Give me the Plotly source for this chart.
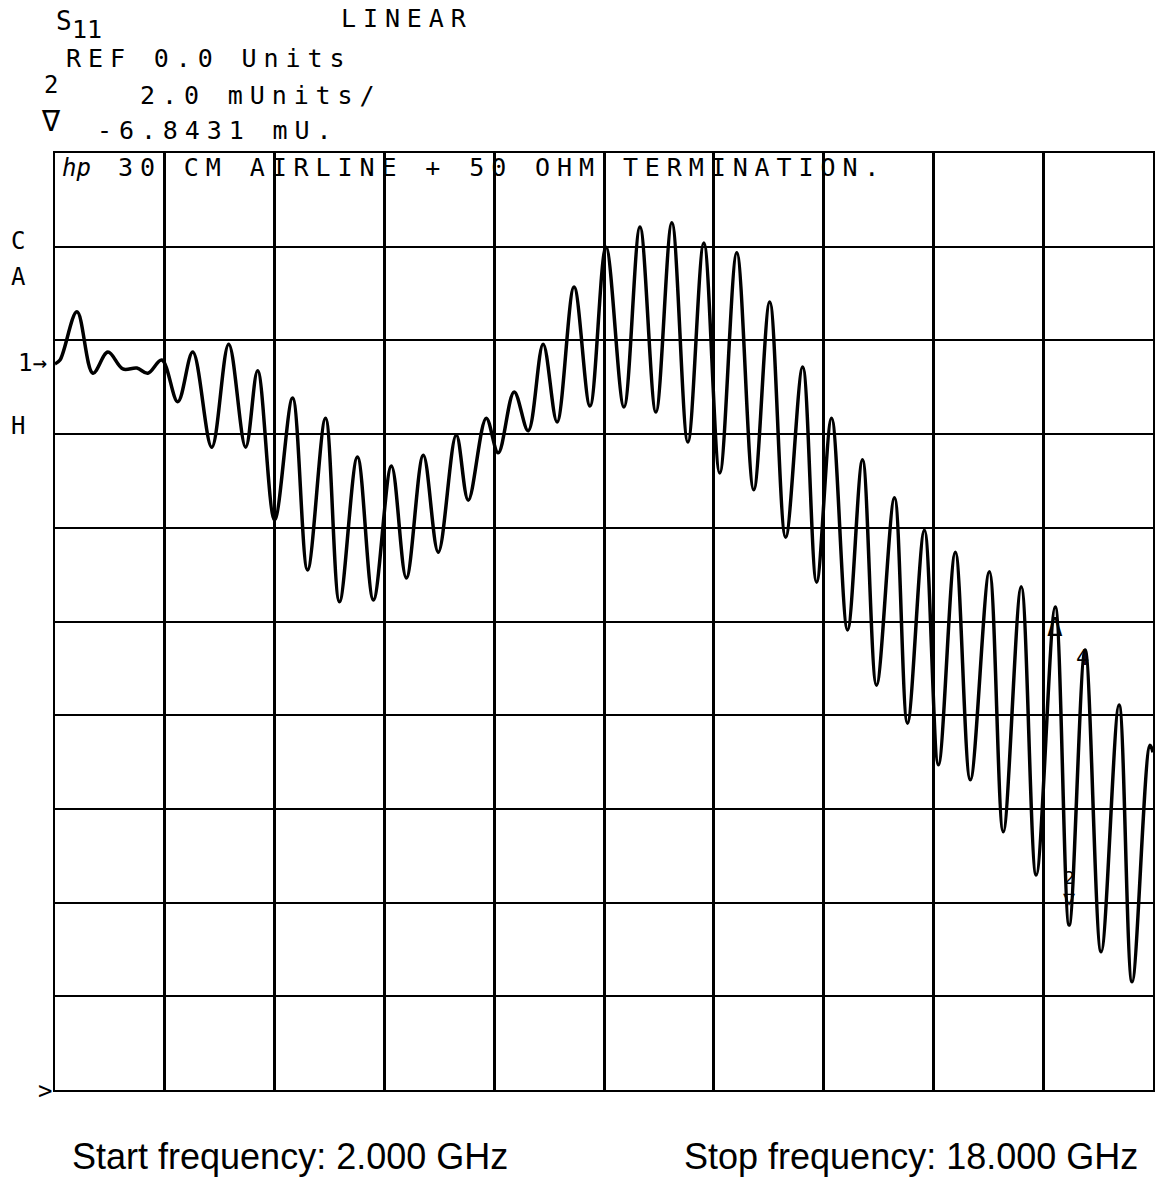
import plotly.graph_objects as go

# Frequency (GHz) and |S11| (mUnits) (peaks and troughs)
freq_ghz = [2.000, 2.073, 2.320, 2.553, 2.771, 2.989, 3.193, 3.353, 3.556, 3.789,
            4.007, 4.284, 4.531, 4.778, 4.953, 5.200, 5.462, 5.680, 5.942, 6.145,
            6.407, 6.640, 6.902, 7.120, 7.367, 7.585, 7.847, 8.022, 8.284, 8.458,
            8.691, 8.895, 9.113, 9.316, 9.564, 9.796, 10.029, 10.291, 10.524, 10.756,
            10.989, 11.222, 11.455, 11.687, 11.935, 12.182, 12.415, 12.647, 12.895, 13.098,
            13.316, 13.549, 13.767, 13.971, 14.233, 14.422, 14.669, 14.873, 15.120, 15.338,
            15.615, 15.818, 16.080, 16.298, 16.575, 16.778, 17.011, 17.244, 17.505, 17.695,
            17.956, 18.000]
s11_munits = [15.50, 15.58, 16.61, 15.30, 15.75, 15.39, 15.41, 15.30, 15.58, 14.69,
              15.75, 13.72, 15.92, 13.72, 15.35, 12.17, 14.77, 11.10, 14.34, 10.42,
              13.51, 10.46, 13.32, 10.93, 13.55, 11.48, 13.98, 12.59, 14.34, 13.60,
              14.90, 14.07, 15.92, 14.26, 17.14, 14.60, 17.99, 14.58, 18.42, 14.47,
              18.51, 13.83, 18.08, 13.17, 17.87, 12.81, 16.82, 11.80, 15.43, 10.84,
              14.34, 9.82, 13.45, 8.64, 12.64, 7.83, 11.95, 6.94, 11.48, 6.62,
              11.06, 5.51, 10.74, 4.59, 10.31, 3.52, 9.39, 2.95, 8.22, 2.31,
              7.36, 7.21]

start_ghz, stop_ghz = 2.0, 18.0
ref_units = 0.0
scale_munits = 2.0
n_div = 10

W, H = 1156, 1177
L, R, T, B = 55, 1, 153, 87
PW, PH = W - L - R, H - T - B


def px(x):
    return (x - L) / PW


def py(y):
    return (H - B - y) / PH


MONO = "DejaVu Sans Mono"
fig = go.Figure()
fig.add_trace(go.Scatter(
    x=freq_ghz, y=s11_munits, mode="lines",
    line=dict(color="black", width=3.5, shape="spline", smoothing=1.0),
    hoverinfo="skip", showlegend=False,
))

anns = []


def add(text, x, y, size=25, family=MONO, xanchor="left"):
    anns.append(dict(text=text, x=px(x), y=py(y), xref="paper", yref="paper",
                     xanchor=xanchor, yanchor="middle", showarrow=False,
                     font=dict(family=family, size=size, color="black")))


# header (instrument annotation)
add("S", 54, 21, size=26)
add("11", 70, 29)
add("LINEAR", 340, 18)
add("REF 0.0 Units", 64, 58)
add("2", 42, 85, size=24)
add("∇", 39, 120, size=30)
add("2.0 mUnits/", 138, 95)
add("-6.8431 mU.", 95, 130)
add("<i>hp</i>", 60, 168, size=24)
add("30 CM AIRLINE + 50 OHM TERMINATION.", 116, 168)
# left edge labels
add("C", 9, 241, size=24)
add("A", 9, 277, size=24)
add("1→", 16, 363, size=24)
add("H", 9, 426, size=24)
add("&gt;", 36, 1091, size=24)
# markers on trace
add("Δ", 1057, 627, size=26, xanchor="center")
add("4", 1084, 657, size=22, xanchor="center")
add("2", 1071, 877, size=18, xanchor="center")
add("▽", 1071, 898, size=20, xanchor="center")
# footer
add(f"Start frequency: {start_ghz:.3f} GHz", 70, 1156, size=36,
    family="Liberation Sans, Arial")
add(f"Stop frequency: {stop_ghz:.3f} GHz", 683, 1156, size=36,
    family="Liberation Sans, Arial")

fig.update_layout(
    width=W, height=H, margin=dict(l=L, r=R, t=T, b=B),
    paper_bgcolor="white", plot_bgcolor="white",
    annotations=anns, showlegend=False,
)
fig.update_xaxes(range=[start_ghz, stop_ghz], tick0=start_ghz,
                 dtick=(stop_ghz - start_ghz) / n_div,
                 showgrid=True, gridcolor="black", gridwidth=2.5,
                 showticklabels=False, ticks="", zeroline=False,
                 showline=True, mirror=True, linecolor="black", linewidth=2)
fig.update_yaxes(range=[ref_units, ref_units + scale_munits * n_div], tick0=0,
                 dtick=scale_munits,
                 showgrid=True, gridcolor="black", gridwidth=2,
                 showticklabels=False, ticks="", zeroline=False,
                 showline=True, mirror=True, linecolor="black", linewidth=2)

post = """
document.body.style.margin='0';
var gd = document.getElementById('{plot_id}');
gd.querySelectorAll('.annotation-text').forEach(function(t){
  var f = (t.style.fontFamily || '');
  if (f.indexOf('Mono') >= 0 && t.textContent.length > 2) {
    var b0 = t.getBBox();
    t.style.letterSpacing = '6.9px';
    var b1 = t.getBBox();
    var dx = b0.x - b1.x;
    var tr = t.getAttribute('transform') || '';
    t.setAttribute('transform', tr + ' translate(' + dx + ',0)');
  }
});
"""
fig.write_html("out.html", post_script=post, config={"displayModeBar": False})
